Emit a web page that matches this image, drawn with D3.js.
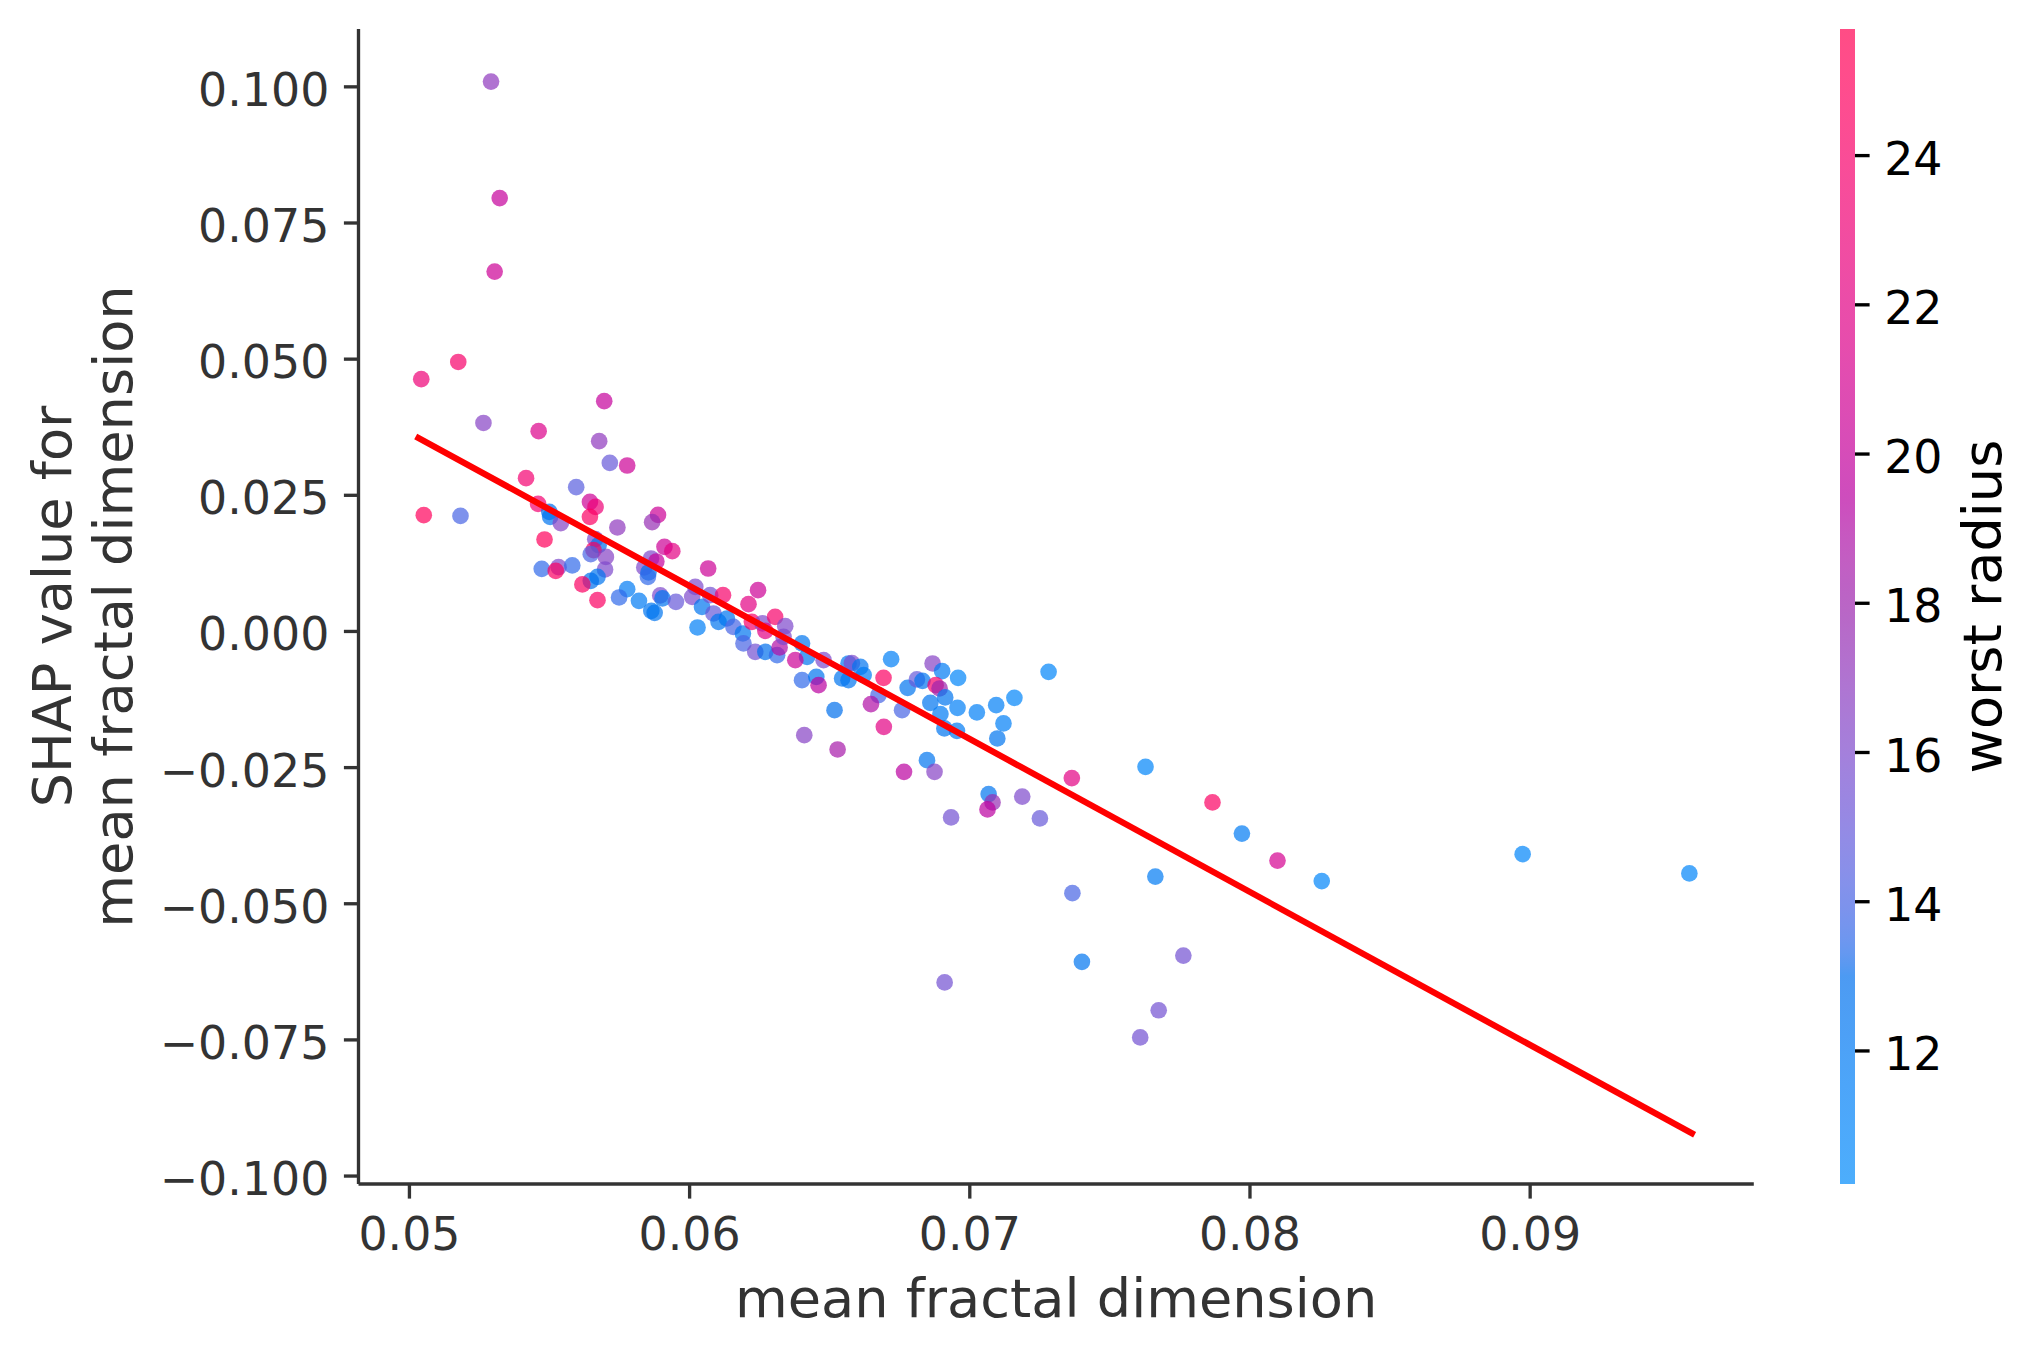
<!DOCTYPE html>
<html><head><meta charset="utf-8">
<script src="https://cdn.jsdelivr.net/npm/d3@7"></script>
<style>html,body{margin:0;padding:0;background:#fff;} svg{display:block;}</style>
</head><body><svg id="chart" width="2040" height="1357"></svg>
<script>
// ---- data ----
const featureVals = [0.05293,0.05324,0.05306,0.05044,0.05176,0.05266,0.05463,0.05697,0.05679,0.05717,
0.05779,0.05418,0.05053,0.05184,0.05597,0.05461,0.05501,0.05504,0.05542,0.05484,
0.05646,0.05666,0.05646,0.05744,0.05889,0.05868,0.05665,0.05677,0.05659,0.05649,
0.05703,0.05912,0.0594,0.05474,0.05534,0.05524,0.05583,0.057,0.05673,0.05649,
0.05619,0.05673,0.05864,0.05883,0.0584,0.05855,0.05853,0.05779,0.0575,0.05821,
0.05865,0.05877,0.05897,0.05905,0.05953,0.06068,0.06022,0.06011,0.06046,0.0603,
0.06075,0.06121,0.06087,0.06105,0.06135,0.06158,0.06246,0.06212,0.06192,0.06194,
0.06224,0.06262,0.06272,0.06307,0.06343,0.06236,0.06272,0.06314,0.06323,0.06337,
0.06403,0.06421,0.06379,0.06403,0.06454,0.06462,0.0648,0.06546,0.06569,0.06581,
0.06611,0.06569,0.06623,0.06721,0.06694,0.06676,0.06649,0.0676,0.0678,0.06519,
0.06411,0.0653,0.06695,0.06813,0.06833,0.06869,0.06903,0.0688,0.06894,0.06914,
0.06861,0.06897,0.06911,0.06956,0.06958,0.0696,0.07027,0.07096,0.07161,0.07122,
0.071,0.07283,0.06849,0.06876,0.06767,0.07069,0.07083,0.07065,0.07189,0.07366,
0.07629,0.06935,0.07252,0.07868,0.07973,0.081,0.08258,0.08975,0.0957,0.07664,
0.07368,0.07402,0.07764,0.07676,0.0761,0.06912];
const shapVals = [0.10088,0.07949,0.06598,0.04623,0.04939,0.03819,0.03668,0.04219,0.03485,0.03086,
0.03038,0.02805,0.02126,0.02113,0.0264,0.02333,0.02187,0.02095,0.01979,0.0168,
0.0237,0.02278,0.02095,0.019,0.02131,0.01997,0.01685,0.01575,0.01483,0.0141,
0.0136,0.01544,0.01465,0.0114,0.01171,0.01103,0.01203,0.01129,0.00993,0.0092,
0.00854,0.00565,0.01331,0.01276,0.01166,0.01074,0.00993,0.00767,0.00615,0.00553,
0.00369,0.00332,0.00652,0.00597,0.00534,0.01147,0.0081,0.00626,0.00442,0.00064,
0.00657,0.00657,0.00321,0.00167,0.00229,0.00075,0.00749,0.00492,-0.00046,-0.00229,
0.00167,0.00138,0.00002,0.00259,0.00088,-0.00384,-0.00384,-0.00444,-0.00303,-0.00108,
-0.00229,-0.00476,-0.00536,-0.00903,-0.00843,-0.00995,-0.00536,-0.00872,-0.00597,-0.00591,
-0.00659,-0.00903,-0.00811,-0.00518,-0.00861,-0.01179,-0.01344,-0.01454,-0.01045,-0.01454,
-0.01913,-0.02176,-0.01761,-0.0089,-0.00916,-0.00597,-0.00738,-0.00995,-0.01056,-0.01221,
-0.0132,-0.01527,-0.0179,-0.01834,-0.01412,-0.00861,-0.01496,-0.01362,-0.01228,-0.01698,
-0.01974,-0.00751,-0.02372,-0.02587,-0.02587,-0.02996,-0.03149,-0.03277,-0.03042,-0.02702,
-0.02495,-0.03424,-0.03442,-0.03149,-0.03721,-0.04217,-0.04593,-0.04098,-0.04452,-0.04511,
-0.04814,-0.06075,-0.05961,-0.06965,-0.07463,-0.06453];
const radiusVals = [17,20,20.5,23,24,16.5,21.5,20,17,15,
20.5,23.5,25,14,14.5,23.5,13,12.5,16.5,25,
20.5,23,24.5,17,20.5,17.5,16,13,24.5,14,
16.5,20.5,22,13.5,16,24.5,13.5,16,12.5,13,
24.5,24.5,16,20,16,13,13.5,12,13.5,12,
12.5,12.5,16,12.5,15,20.5,16,16,12.5,11.5,
15.5,24,15,12.5,12.5,14,20.5,22,12.5,14,
24,16,22,24,16,15.5,13,13.5,19,16,
12.5,12.5,20.5,13.5,12.5,19.5,16,12.5,12,16,
12.5,12.5,12,11.5,24.5,14,19,14,12.5,13,
16.5,18.5,22,15,12.5,16.5,12,24,18,12.5,
12.5,12,12.5,12,11.5,11,11.5,11.5,11,11.5,
12.5,11,12.5,16.5,19.5,12.5,17.5,19.5,16,22,
11,15.5,15,24.5,12,21,11,11,11,12,
14,12.5,15.5,15.5,15.5,15.5];
const fitLineX = [0.05034, 0.09579];
const fitLineY = [0.03545, -0.09225];
const xTicks = [0.05, 0.06, 0.07, 0.08, 0.09];
const yTicks = [-0.1, -0.075, -0.05, -0.025, 0, 0.025, 0.05, 0.075, 0.1];
const cTicks = [12, 14, 16, 18, 20, 22, 24];
const xDomain = [0.0482, 0.0980];
const yDomain = [-0.10155, 0.11053];
const cDomain = [10.21, 25.69];
const xLabel = "mean fractal dimension";
const yLabelLines = ["SHAP value for", "mean fractal dimension"];
const cLabel = "worst radius";

// ---- shap red_blue colormap (Lch interpolation) ----
function lch2rgb(L, C, h) {
  const a = C * Math.cos(h), b = C * Math.sin(h);
  let fy = (L + 16) / 116, fx = a / 500 + fy, fz = fy - b / 200;
  if (fz < 0) fz = 0;
  const f = v => v > 0.2068966 ? v * v * v : (v - 16 / 116) / 7.787;
  const X = f(fx) * 0.95047, Y = f(fy) * 1.0, Z = f(fz) * 1.08883;
  let r = 3.24048134 * X - 1.53715152 * Y - 0.49853633 * Z;
  let g = -0.96925495 * X + 1.87599 * Y + 0.04155593 * Z;
  let bb = 0.05564664 * X - 0.20404134 * Y + 1.05731107 * Z;
  const gam = v => v > 0.0031308 ? 1.055 * Math.pow(v, 1 / 2.4) - 0.055 : v * 12.92;
  const cl = v => Math.max(0, Math.min(1, gam(v)));
  return d3.rgb(cl(r) * 255, cl(g) * 255, cl(bb) * 255);
}
const nsteps = 100;
const lVals = d3.range(50).map(i => 54 + (40 - 54) * i / 49).concat(d3.range(50).map(i => 40 + (54 - 40) * i / 49));
const cmapColors = d3.range(nsteps).map(i => {
  const t = i / (nsteps - 1);
  const c = 70 + (90 - 70) * t;
  const h = 4.6588 + (0.35470565 + 2 * Math.PI - 4.6588) * t;
  return lch2rgb(lVals[i], c, h).formatHex();
});
const cmap = d3.scaleLinear().domain(d3.range(nsteps).map(i => i / (nsteps - 1))).range(cmapColors)
  .interpolate(d3.interpolateRgb).clamp(true);
const colorNorm = d3.scaleLinear().domain(cDomain).range([0, 1]).clamp(true);
const colorOf = v => cmap(colorNorm(v));
const ALPHA = 0.7;

// ---- layout ----
const L = 358.5, R = 1753.8, T = 29, B = 1184;
const svg = d3.select("#chart");
const x = d3.scaleLinear().domain(xDomain).range([L, R]);
const y = d3.scaleLinear().domain(yDomain).range([B, T]);
const cy = d3.scaleLinear().domain(cDomain).range([B, T]);
const FONT = "DejaVu Sans, Liberation Sans, sans-serif";
const TICK_FS = 45.83, LABEL_FS = 54.17, TICK_LEN = 14.6, LW = 3.33;
const AX = "#333333";

const pts = featureVals.map((v, i) => ({x: v, y: shapVals[i], c: radiusVals[i]}));

// dots
svg.append("g").selectAll("circle").data(pts).join("circle")
  .attr("cx", d => x(d.x)).attr("cy", d => y(d.y)).attr("r", 8.33)
  .attr("fill", d => colorOf(d.c)).attr("fill-opacity", ALPHA).attr("stroke", "none");

// fit line
svg.append("path")
  .datum(fitLineX.map((v, i) => [v, fitLineY[i]]))
  .attr("d", d3.line().x(d => x(d[0])).y(d => y(d[1])))
  .attr("fill", "none").attr("stroke", "#ff0000").attr("stroke-width", 6.25).attr("stroke-linecap", "square");

// y axis
const gy = svg.append("g").attr("transform", `translate(${L},0)`)
  .call(d3.axisLeft(y).tickValues(yTicks).tickFormat(d3.format(".3f")).tickSize(TICK_LEN).tickSizeOuter(0).tickPadding(14.6));
gy.select(".domain").attr("stroke", AX).attr("stroke-width", LW).attr("d", `M0,${B}V${T}`);
gy.selectAll(".tick line").attr("stroke", AX).attr("stroke-width", LW);
gy.selectAll(".tick text").attr("fill", AX).attr("font-family", FONT).attr("font-size", TICK_FS).attr("dy", "0.415em");

// x axis
const gx = svg.append("g").attr("transform", `translate(0,${B})`)
  .call(d3.axisBottom(x).tickValues(xTicks).tickFormat(d3.format(".2f")).tickSize(TICK_LEN).tickSizeOuter(0));
gx.select(".domain").attr("stroke", AX).attr("stroke-width", LW).attr("d", `M${L},0H${R}`);
gx.selectAll(".tick line").attr("stroke", AX).attr("stroke-width", LW);
gx.selectAll(".tick text").attr("fill", AX).attr("font-family", FONT).attr("font-size", TICK_FS).attr("dy", null).attr("y", 65.6);

// axis labels
svg.append("text").attr("x", (L + R) / 2).attr("y", 1317).attr("text-anchor", "middle")
  .attr("font-family", FONT).attr("font-size", LABEL_FS).attr("fill", AX).text(xLabel);
const ylx = [71.4, 131.7];
yLabelLines.forEach((s, i) => {
  svg.append("text").attr("transform", `translate(${ylx[i]},${(T + B) / 2}) rotate(-90)`)
    .attr("text-anchor", "middle").attr("font-family", FONT).attr("font-size", LABEL_FS).attr("fill", AX).text(s);
});

// colorbar
const CBX = 1840, CBW = 15;
const defs = svg.append("defs");
const grad = defs.append("linearGradient").attr("id", "cbgrad").attr("x1", 0).attr("y1", 1).attr("x2", 0).attr("y2", 0);
grad.selectAll("stop").data(d3.range(101)).join("stop")
  .attr("offset", d => d / 100)
  .attr("stop-color", d => cmap(d / 100))
  .attr("stop-opacity", ALPHA);
svg.append("rect").attr("x", CBX).attr("y", T).attr("width", CBW).attr("height", B - T).attr("fill", "url(#cbgrad)");
const gc = svg.append("g").attr("transform", `translate(${CBX + CBW},0)`)
  .call(d3.axisRight(cy).tickValues(cTicks).tickFormat(d3.format("d")).tickSize(TICK_LEN).tickSizeOuter(0).tickPadding(14.6));
gc.select(".domain").remove();
gc.selectAll(".tick line").attr("stroke", "#000").attr("stroke-width", LW);
gc.selectAll(".tick text").attr("fill", "#000").attr("font-family", FONT).attr("font-size", TICK_FS).attr("dy", "0.415em");
svg.append("text").attr("transform", `translate(2000.7,${(T + B) / 2}) rotate(-90)`)
  .attr("text-anchor", "middle").attr("font-family", FONT).attr("font-size", LABEL_FS).attr("fill", "#000").text(cLabel);
</script></body></html>
